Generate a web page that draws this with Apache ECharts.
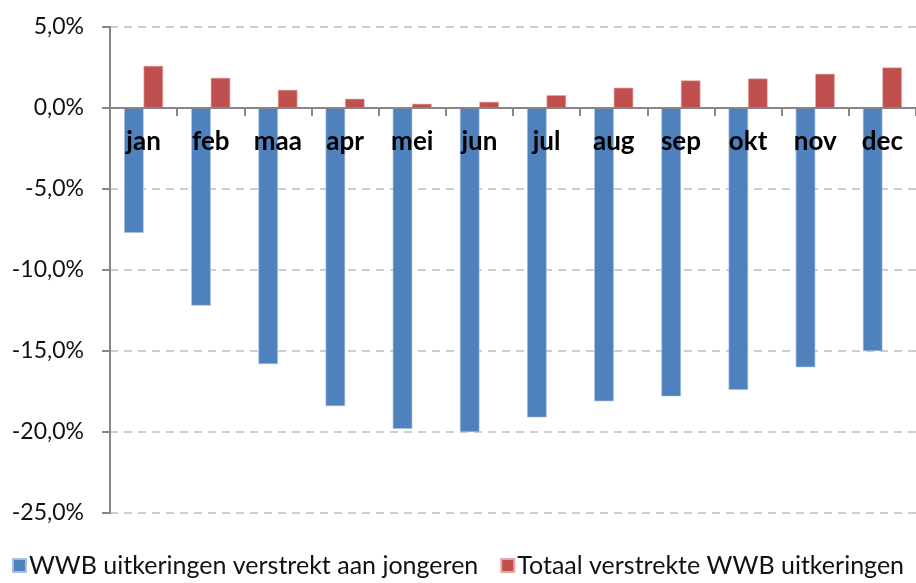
<!DOCTYPE html>
<html>
<head>
<meta charset="utf-8">
<script src="https://cdn.jsdelivr.net/npm/echarts@6/dist/echarts.min.js"></script>
<style>
  html, body { margin: 0; padding: 0; background: #fff; }
  #main { width: 916px; height: 583px; }
</style>
</head>
<body>
<div id="main"></div>
<script>
var months = ['jan', 'feb', 'maa', 'apr', 'mei', 'jun', 'jul', 'aug', 'sep', 'okt', 'nov', 'dec'];
var jongeren = [-7.7, -12.2, -15.8, -18.4, -19.8, -20.0, -19.1, -18.1, -17.8, -17.4, -16.0, -15.0];
var totaal = [2.6, 1.86, 1.12, 0.57, 0.26, 0.38, 0.79, 1.25, 1.7, 1.82, 2.11, 2.5];
var yTicks = { min: -25, max: 5, step: 5 };

var chartDom = document.getElementById('main');
var myChart = echarts.init(chartDom);
var font = 'Lato, "Open Sans", sans-serif';
var plotH = 486;
// put the category axis on the zero line
var zeroOffset = -(0 - yTicks.min) / (yTicks.max - yTicks.min) * plotH;

var option = {
  animation: false,
  grid: { left: 110, top: 27, width: 815, height: plotH },
  legend: {
    bottom: 0,
    left: 'center',
    icon: 'rect',
    itemWidth: 13,
    itemHeight: 13,
    itemGap: 22,
    textStyle: { fontFamily: font, fontSize: 25, color: '#111', padding: [0, 0, 0, -2] },
    data: ['WWB uitkeringen verstrekt aan jongeren', 'Totaal verstrekte WWB uitkeringen']
  },
  xAxis: {
    type: 'category',
    data: months,
    z: 10,
    position: 'bottom',
    offset: zeroOffset,
    axisLine: { onZero: false, lineStyle: { color: '#868686', width: 2 } },
    axisTick: { show: true, length: 8, lineStyle: { color: '#868686', width: 2 } },
    axisLabel: { margin: 21, fontFamily: font, fontSize: 26, fontWeight: 'bold', color: '#000' }
  },
  yAxis: {
    type: 'value',
    min: yTicks.min,
    max: yTicks.max,
    interval: yTicks.step,
    axisLine: { show: true, lineStyle: { color: '#868686', width: 2 } },
    axisTick: { show: true, length: 8, lineStyle: { color: '#868686', width: 2 } },
    splitLine: { lineStyle: { color: '#BFBFBF', width: 1.5, type: [8, 6] } },
    axisLabel: {
      margin: 26,
      fontFamily: font,
      fontSize: 23,
      color: '#111',
      formatter: function (v) { return v.toFixed(1).replace('.', ',') + '%'; }
    }
  },
  series: [
    {
      name: 'WWB uitkeringen verstrekt aan jongeren',
      type: 'bar',
      data: jongeren,
      barGap: '0%',
      barCategoryGap: '42%',
      itemStyle: { color: '#4F81BD', borderColor: '#A7C0DE', borderWidth: 0.6 }
    },
    {
      name: 'Totaal verstrekte WWB uitkeringen',
      type: 'bar',
      data: totaal,
      itemStyle: { color: '#C0504D', borderColor: '#DFA8A6', borderWidth: 0.6 }
    }
  ]
};

option && myChart.setOption(option);
</script>
</body>
</html>
